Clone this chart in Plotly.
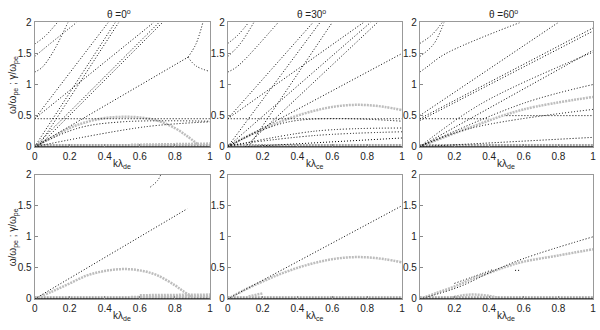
import plotly.graph_objects as go

# ---------------- data ----------------
# Top row: real frequency branches (black dotted) and growth rates (grey)
t0_black_k = [[0, 0.06, 0.13], [0, 0.05, 0.24], [0, 0.04, 0.1, 0.19],
              [0, 0.42], [0, 0.46], [0.02, 0.48], [0, 0.68], [0, 0.71], [0.02, 0.73],
              [0, 0.875], [0.875, 0.92, 0.96], [0.875, 0.92, 1.0],
              [0, 1.0], [0, 0.25, 0.5, 1.0], [0, 0.63, 1.0]]
t0_black_w = [[1.65, 1.78, 2.0], [1.45, 1.57, 2.0], [1.2, 1.27, 1.5, 2.0],
              [0.45, 2.0], [0, 2.0], [0, 2.0], [0.45, 2.0], [0, 2.0], [0, 2.0],
              [0, 1.44], [1.44, 1.65, 2.0], [1.44, 1.3, 1.21],
              [0.45, 0.45], [0, 0.3, 0.4, 0.41], [0, 0.32, 0.4]]
t0_grey_k = [[0, 0.1, 0.2, 0.3, 0.4, 0.5, 0.6, 0.7, 0.8, 0.87, 0.93], [0.55, 1.0]]
t0_grey_w = [[0, 0.15, 0.3, 0.4, 0.46, 0.48, 0.47, 0.42, 0.3, 0.17, 0.04], [0.03, 0.05]]

t30_black_k = [[0, 0.06, 0.12], [0, 0.07, 0.15], [0, 0.04, 0.09, 0.29],
               [0, 0.49], [0, 0.53], [0.12, 0.6], [0, 0.78], [0, 0.82], [0.1, 0.86],
               [0, 1.0], [0, 1.0], [0, 0.35, 1.0], [0, 0.5, 1.0], [0, 0.5, 1.0], [0.1, 1.0]]
t30_black_w = [[1.66, 1.8, 2.0], [1.45, 1.65, 2.0], [1.2, 1.26, 1.38, 2.0],
               [0.45, 2.0], [0, 2.0], [0, 2.0], [0.45, 2.0], [0, 2.0], [0, 2.0],
               [0, 1.5], [0.45, 0.45], [0, 0.4, 0.41], [0, 0.25, 0.3], [0.02, 0.18, 0.24], [0, 0.14]]
t30_grey_k = [[0, 0.1, 0.2, 0.3, 0.4, 0.5, 0.6, 0.7, 0.8, 0.9, 1.0]]
t30_grey_w = [[0, 0.15, 0.28, 0.4, 0.5, 0.58, 0.64, 0.67, 0.67, 0.64, 0.59]]

t60_black_k = [[0, 0.07, 0.13], [0, 0.08, 0.14], [0, 0.04, 0.145, 0.58],
               [0, 0.8], [0, 1.0], [0, 1.0], [0, 0.36, 1.0], [0, 1.0], [0, 0.6, 1.0],
               [0, 0.4], [0.5, 1.0], [0, 0.3, 1.0], [0, 1.0]]
t60_black_w = [[1.66, 1.8, 2.0], [1.45, 1.65, 2.0], [1.2, 1.28, 1.49, 2.0],
               [0.5, 2.0], [0.45, 1.91], [0.42, 1.86], [0, 0.7, 1.52], [0, 1.55], [0, 0.7, 1.0],
               [0.45, 0.45], [0.5, 0.5], [0, 0.3, 0.6], [0, 0.15]]
t60_grey_k = [[0, 0.3, 0.6, 1.0]]
t60_grey_w = [[0, 0.32, 0.6, 0.8]]

# Bottom row
b0_black_k = [[0, 0.87], [0.66, 0.7, 0.72]]
b0_black_w = [[0, 1.45], [1.8, 1.9, 2.0]]
b0_grey_k = [[0, 0.1, 0.2, 0.3, 0.4, 0.5, 0.6, 0.7, 0.8, 0.85, 0.9], [0.55, 1.0], [0.6, 1.0]]
b0_grey_w = [[0, 0.12, 0.25, 0.38, 0.45, 0.48, 0.46, 0.38, 0.22, 0.12, 0.03], [0.03, 0.05], [0.06, 0.07]]

b30_black_k = [[0, 1.0]]
b30_black_w = [[0, 1.5]]
b30_grey_k = [[0, 0.1, 0.2, 0.3, 0.4, 0.5, 0.6, 0.7, 0.8, 0.9, 1.0], [0.12, 0.2]]
b30_grey_w = [[0, 0.15, 0.28, 0.4, 0.5, 0.58, 0.64, 0.67, 0.67, 0.64, 0.59], [0.04, 0.09]]

b60_black_k = [[0, 0.15, 0.25, 0.4, 0.6, 1.0], [0.2, 0.3, 0.42], [0.55, 0.58]]
b60_black_w = [[0, 0.12, 0.22, 0.42, 0.65, 1.0], [0.25, 0.35, 0.47], [0.46, 0.46]]
b60_grey_k = [[0, 0.1, 0.2, 0.3, 0.4, 0.5, 0.6, 0.8, 1.0], [0.18, 0.25, 0.32, 0.4, 0.45]]
b60_grey_w = [[0, 0.1, 0.2, 0.32, 0.42, 0.52, 0.6, 0.7, 0.8], [0.02, 0.06, 0.07, 0.05, 0.02]]

titles = ["θ =0<sup>o</sup>", "θ =30<sup>o</sup>", "θ =60<sup>o</sup>"]
xlabels = ["kλ<sub>de</sub>", "kλ<sub>ce</sub>", "kλ<sub>de</sub>"]
ylabel = "ω/ω<sub>pe</sub> ; γ/ω<sub>pe</sub>"
x_ticks = [0, 0.2, 0.4, 0.6, 0.8, 1]
x_ticklabels = ["0", "0.2", "0.4", "0.6", "0.8", "1"]
y_ticks = [0, 0.5, 1, 1.5, 2]
y_ticklabels = ["0", "0.5", "1", "1.5", "2"]

panels = [
    (t0_black_k, t0_black_w, t0_grey_k, t0_grey_w),
    (t30_black_k, t30_black_w, t30_grey_k, t30_grey_w),
    (t60_black_k, t60_black_w, t60_grey_k, t60_grey_w),
    (b0_black_k, b0_black_w, b0_grey_k, b0_grey_w),
    (b30_black_k, b30_black_w, b30_grey_k, b30_grey_w),
    (b60_black_k, b60_black_w, b60_grey_k, b60_grey_w),
]

# ---------------- figure ----------------
W, H = 600, 330
xdom_px = [(32, 209), (227, 403), (421, 596)]
ydom_px = [(17, 146), (175, 304)]

fig = go.Figure()
font = dict(family="Liberation Sans, Arial, sans-serif", size=10, color="#222")

for i, (bk, bw, gk, gw) in enumerate(panels):
    n = i + 1
    xa = "x" if n == 1 else f"x{n}"
    ya = "y" if n == 1 else f"y{n}"
    # zero-level band
    fig.add_trace(go.Scatter(x=[0, 1], y=[0.02, 0.02], mode="lines",
                             line=dict(color="#a0a0a0", width=3, dash="2px,1px"),
                             xaxis=xa, yaxis=ya, showlegend=False, hoverinfo="skip"))
    for k, w in zip(gk, gw):
        fig.add_trace(go.Scatter(x=k, y=w, mode="lines", line_shape="spline",
                                 line=dict(color="#bdbdbd", width=2.5, dash="2px,1px"),
                                 xaxis=xa, yaxis=ya, showlegend=False, hoverinfo="skip"))
    for k, w in zip(bk, bw):
        fig.add_trace(go.Scatter(x=k, y=w, mode="lines", line_shape="spline",
                                 line=dict(color="black", width=1, dash="1px,2px"),
                                 xaxis=xa, yaxis=ya, showlegend=False, hoverinfo="skip"))
    fig.add_trace(go.Scatter(x=[0, 1], y=[0, 0], mode="lines",
                             line=dict(color="#222", width=1.5),
                             xaxis=xa, yaxis=ya, showlegend=False, hoverinfo="skip"))

    col = i % 3
    row = i // 3
    x0, x1 = xdom_px[col]
    y0, y1 = ydom_px[row]
    axx = dict(domain=[x0 / W, x1 / W], range=[0, 1], anchor=ya,
               tickvals=x_ticks, ticktext=x_ticklabels, ticks="inside", ticklen=3,
               tickcolor="#888", showline=True, mirror=True, linecolor="#999",
               linewidth=1, showgrid=False, zeroline=False, tickfont=font)
    axy = dict(domain=[1 - y1 / H, 1 - y0 / H], range=[0, 2], anchor=xa,
               tickvals=y_ticks, ticktext=y_ticklabels, ticks="inside", ticklen=3,
               tickcolor="#888", showline=True, mirror=True, linecolor="#999",
               linewidth=1, showgrid=False, zeroline=False, tickfont=font)
    fig.layout["xaxis" if n == 1 else f"xaxis{n}"] = axx
    fig.layout["yaxis" if n == 1 else f"yaxis{n}"] = axy

    # x label
    fig.add_annotation(text=xlabels[col], x=(x0 + x1) / 2 / W, y=1 - (y1 + 18) / H,
                       xref="paper", yref="paper", showarrow=False, font=font,
                       xanchor="center", yanchor="middle")

for col in range(3):
    x0, x1 = xdom_px[col]
    fig.add_annotation(text=titles[col], x=(x0 + x1) / 2 / W - 3 / W, y=1 - 8 / H,
                       xref="paper", yref="paper", showarrow=False, font=font,
                       xanchor="center", yanchor="middle")

for row in range(2):
    y0, y1 = ydom_px[row]
    fig.add_annotation(text=ylabel, x=2 / W, y=1 - (y0 + y1) / 2 / H,
                       xref="paper", yref="paper", showarrow=False, font=font,
                       textangle=-90, xanchor="left", yanchor="middle")

fig.update_layout(width=W, height=H, margin=dict(l=0, r=0, t=0, b=0),
                  paper_bgcolor="white", plot_bgcolor="white")

fig.write_html("out.html", config={"displayModeBar": False, "staticPlot": True},
               post_script="document.body.style.margin='0px';document.body.style.overflow='hidden';")
